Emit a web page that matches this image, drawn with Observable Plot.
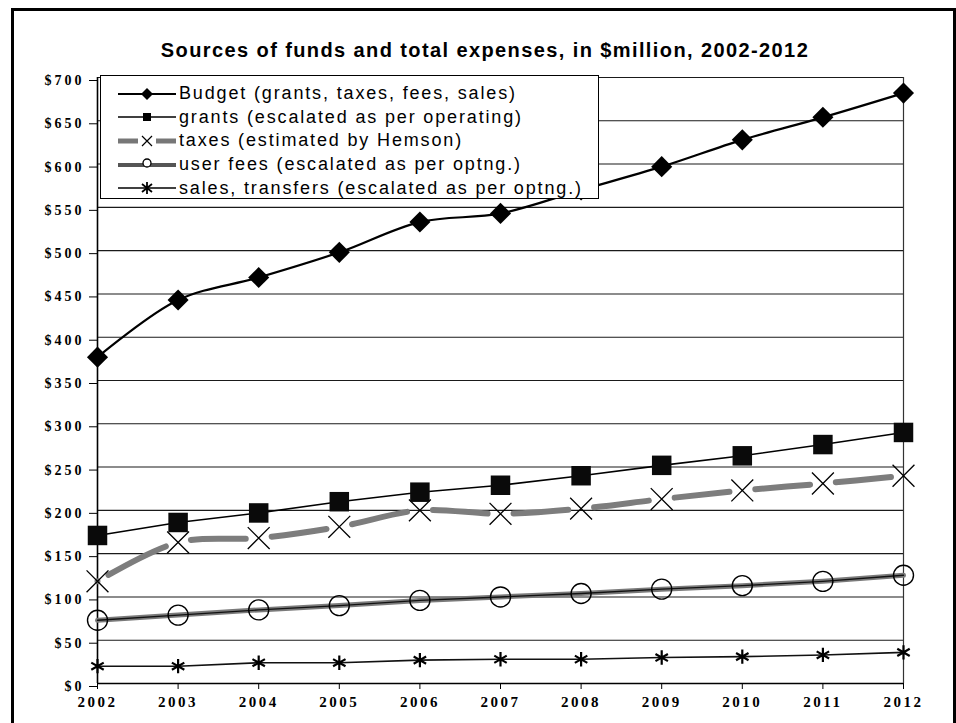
<!DOCTYPE html>
<html>
<head>
<meta charset="utf-8">
<script src="https://cdn.jsdelivr.net/npm/d3@7"></script>
<script src="https://cdn.jsdelivr.net/npm/@observablehq/plot@0.6"></script>
<style>
  html, body { margin: 0; padding: 0; background: #fff; }
  #page { position: relative; width: 956px; height: 723px; overflow: hidden; background: #fff; }
  #border { position: absolute; left: 11px; top: 8px; width: 945px; height: 760px;
            border: 3px solid #000; box-sizing: border-box; }
  #title { position: absolute; left: 0; top: 39px; width: 970px; text-align: center;
           font-family: "Liberation Sans", Arial, sans-serif; font-weight: bold; font-size: 20px;
           letter-spacing: 1.4px; color: #000; }
  #chart { position: absolute; left: 0; top: 65px; }
  #legend { position: absolute; left: 100px; top: 75px; width: 499px; height: 124px;
            border: 1px solid #000; background: #fff; box-sizing: border-box; padding-top: 6px; }
  .row { height: 23.6px; display: flex; align-items: center; }
  .row svg { margin-left: 17px; flex: none; }
  .row span { font-family: "Liberation Sans", Arial, sans-serif; font-size: 18px; letter-spacing: 1.85px; color: #000; white-space: nowrap; margin-left: 1px; }
  g[aria-label="y-axis tick label"] text { letter-spacing: 3px; }
  g[aria-label="x-axis tick label"] text { letter-spacing: 2.5px; }
</style>
</head>
<body>
<div id="page">
  <div id="border"></div>
  <div id="title"></div>
  <div id="chart"></div>
  <div id="legend"></div>
</div>
<script>
const titleText = "Sources of funds and total expenses, in $million, 2002-2012";
const years = [2002, 2003, 2004, 2005, 2006, 2007, 2008, 2009, 2010, 2011, 2012];
const budget = [377, 443, 469, 498, 533, 543, 570, 597, 628, 654, 682];
const grants = [171, 186, 197, 210, 221, 229, 240, 252, 263, 276, 290];
const taxes = [118, 163, 168, 181, 200, 196, 202, 213, 223, 231, 240];
const userFees = [73, 79, 85, 90, 96, 100, 104, 109, 113, 118, 125];
const sales = [20, 20, 24, 24, 27, 28, 28, 30, 31, 33, 36];
const seriesLabels = [
  "Budget (grants, taxes, fees, sales)",
  "grants (escalated as per operating)",
  "taxes (estimated by Hemson)",
  "user fees (escalated as per optng.)",
  "sales, transfers (escalated as per optng.)"
];
const yTicks = [0, 50, 100, 150, 200, 250, 300, 350, 400, 450, 500, 550, 600, 650, 700];
const yTickLabels = ["$0", "$50", "$100", "$150", "$200", "$250", "$300", "$350", "$400", "$450", "$500", "$550", "$600", "$650", "$700"];

document.getElementById("title").textContent = titleText;

const toRows = (vals) => years.map((year, i) => ({year, value: vals[i]}));
const B = toRows(budget), G = toRows(grants), T = toRows(taxes), U = toRows(userFees), S = toRows(sales);

const serif = "'Liberation Serif', 'Times New Roman', serif";

const chart = Plot.plot({
  width: 956,
  height: 658,
  marginLeft: 97,
  marginRight: 53,
  marginTop: 12,
  marginBottom: 40,
  x: {domain: [2002, 2012], label: null},
  y: {domain: [0, 700], label: null},
  marks: [
    Plot.ruleY(yTicks.filter(d => d > 0), {stroke: "#1a1a1a", strokeWidth: 1.1}),
    Plot.ruleX([2012], {stroke: "#333", strokeWidth: 1.2}),
    Plot.axisY({ticks: yTicks, tickFormat: d => yTickLabels[yTicks.indexOf(d)], tickSize: 8, tickPadding: 5,
      dy: 3, fontFamily: serif, fontWeight: "bold", fontSize: 14, label: null, stroke: "#000"}),
    Plot.axisX({ticks: years, tickFormat: d => String(d), tickSize: 6, tickPadding: 7,
      fontFamily: serif, fontWeight: "bold", fontSize: 15, label: null, stroke: "#000"}),
    Plot.ruleX([2002], {stroke: "#000", strokeWidth: 1.6}),
    Plot.ruleY([0], {stroke: "#000", strokeWidth: 1.6}),
    // sales
    Plot.line(S, {x: "year", y: "value", stroke: "#111", strokeWidth: 1.6}),
    Plot.dot(S, {x: "year", y: "value", symbol: "asterisk", r: 6.8, stroke: "#000", strokeWidth: 2.2}),
    // user fees
    Plot.line(U, {x: "year", y: "value", stroke: "#7a7a7a", strokeWidth: 5}),
    Plot.line(U, {x: "year", y: "value", stroke: "#111", strokeWidth: 1.4}),
    Plot.dot(U, {x: "year", y: "value", symbol: "circle", r: 10, fill: "none", stroke: "#000", strokeWidth: 1.4}),
    // taxes
    Plot.line(T, {x: "year", y: "value", curve: "catmull-rom", stroke: "#7d7d7d", strokeWidth: 6, className: "taxes-line"}),
    Plot.dot(T, {x: "year", y: "value", symbol: "times", r: 10, stroke: "#000", strokeWidth: 1.3}),
    // grants
    Plot.line(G, {x: "year", y: "value", stroke: "#000", strokeWidth: 1.6}),
    Plot.dot(G, {x: "year", y: "value", symbol: "square", r: 11, fill: "#0a0a0a", stroke: "none"}),
    // budget
    Plot.line(B, {x: "year", y: "value", curve: "catmull-rom", stroke: "#000", strokeWidth: 2.2}),
    Plot.dot(B, {x: "year", y: "value", symbol: "diamond2", r: 9.5, fill: "#000", stroke: "none"})
  ]
});
document.getElementById("chart").appendChild(chart);

// dash the taxes line so each gap is centred on a marker (as in the source)
(function dashTaxes() {
  const path = chart.querySelector(".taxes-line path") || chart.querySelector("g.taxes-line path");
  if (!path || !path.getTotalLength) return;
  const total = path.getTotalLength();
  const xScale = chart.scale("x");
  const targets = years.map(y => xScale.apply(y));
  const lengthAt = (tx) => {
    let lo = 0, hi = total;
    for (let k = 0; k < 40; k++) {
      const mid = (lo + hi) / 2;
      if (path.getPointAtLength(mid).x < tx) lo = mid; else hi = mid;
    }
    return (lo + hi) / 2;
  };
  const ls = targets.map((tx, i) => i === 0 ? 0 : (i === targets.length - 1 ? total : lengthAt(tx)));
  const g = 13;
  const parts = [0, g];
  for (let i = 0; i < ls.length - 1; i++) {
    parts.push(Math.max(0, ls[i + 1] - ls[i] - 2 * g));
    parts.push(i === ls.length - 2 ? g + 10 : 2 * g);
  }
  path.setAttribute("stroke-dasharray", parts.map(v => v.toFixed(2)).join(" "));
})();

// legend
const swatches = [
  `<line x1="0" y1="11" x2="58" y2="11" stroke="#000" stroke-width="2"/><path d="M29 5 L35 11 L29 17 L23 11 Z" fill="#000"/>`,
  `<line x1="0" y1="11" x2="58" y2="11" stroke="#000" stroke-width="1.3"/><rect x="25" y="7" width="8" height="8" fill="#000"/>`,
  `<line x1="0" y1="11" x2="20" y2="11" stroke="#777" stroke-width="5"/><line x1="38" y1="11" x2="58" y2="11" stroke="#777" stroke-width="5"/><path d="M24 6 L34 16 M34 6 L24 16" stroke="#000" stroke-width="1.2"/>`,
  `<line x1="0" y1="11" x2="58" y2="11" stroke="#555" stroke-width="4"/><circle cx="29" cy="9" r="4" fill="#fff" stroke="#000" stroke-width="1.3"/>`,
  `<line x1="0" y1="11" x2="58" y2="11" stroke="#000" stroke-width="1.3"/><path d="M29 5 V17 M24 7 L34 15 M34 7 L24 15" stroke="#000" stroke-width="1.8"/>`
];
const legend = document.getElementById("legend");
seriesLabels.forEach((lab, i) => {
  const row = document.createElement("div");
  row.className = "row";
  row.innerHTML = `<svg width="60" height="22" viewBox="0 0 60 22">${swatches[i]}</svg>`;
  const span = document.createElement("span");
  span.textContent = lab;
  row.appendChild(span);
  legend.appendChild(row);
});
</script>
</body>
</html>
